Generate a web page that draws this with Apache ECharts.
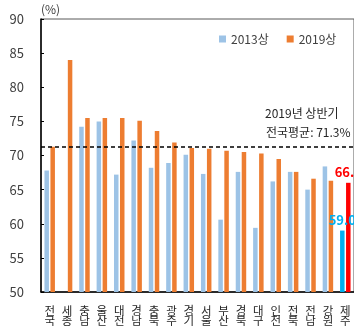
<!DOCTYPE html>
<html>
<head>
<meta charset="utf-8">
<script src="https://cdn.jsdelivr.net/npm/echarts@6/dist/echarts.min.js"></script>
<style>
  html, body { margin: 0; padding: 0; background: #fff; }
  #chart { width: 354px; height: 328px; }
</style>
</head>
<body>
<div id="chart"></div>
<script>
// Regional rates, first half of 2013 vs first half of 2019 (%)
const regions = ['전국', '세종', '충남', '울산', '대전', '경남', '충북', '광주', '경기', '서울', '부산', '경북', '대구', '인천', '전북', '전남', '강원', '제주'];
const rate2013 = [67.8, null, 74.2, 75.0, 67.2, 72.2, 68.2, 68.9, 70.1, 67.3, 60.6, 67.6, 59.4, 66.2, 67.6, 65.0, 68.4, 59.0];
const rate2019 = [71.3, 84.0, 75.5, 75.5, 75.5, 75.1, 73.6, 71.9, 71.1, 71.0, 70.7, 70.5, 70.3, 69.5, 67.6, 66.6, 66.3, 66.0];
const seriesNames = ['2013상', '2019상'];
const yTicks = { min: 50, max: 90, step: 5 };
const nationalAvg2019 = 71.3;
const highlightRegion = '제주';

const FONT = '"Noto Sans CJK KR", "Noto Sans", sans-serif';
const BLUE = '#9DC3E6', ORANGE = '#ED7D31';
const HL_BLUE = '#00B0F0', HL_RED = '#FF0000';
const hlIndex = regions.indexOf(highlightRegion);

function withHighlight(values, color) {
  return values.map((v, i) => {
    if (i !== hlIndex) return v;
    return {
      value: v,
      itemStyle: { color: color },
      label: {
        show: true, position: 'top', distance: 4,
        color: color, fontWeight: 'bold', fontSize: 13, fontFamily: FONT,
        formatter: p => Number(p.value).toFixed(1)
      }
    };
  });
}

const chart = echarts.init(document.getElementById('chart'), null, { renderer: 'canvas' });
chart.setOption({
  animation: false,
  backgroundColor: '#fff',
  textStyle: { fontFamily: FONT },
  grid: {
    left: 41, top: 19, width: 315, height: 273,
    show: true, borderColor: '#595959', borderWidth: 1, backgroundColor: 'transparent'
  },
  legend: {
    data: seriesNames,
    left: 214, top: 28,
    icon: 'rect', itemWidth: 7, itemHeight: 7, itemGap: 18,
    textStyle: { fontSize: 12, color: '#404040', fontFamily: FONT }
  },
  xAxis: {
    type: 'category',
    data: regions,
    axisLine: { lineStyle: { color: '#000', width: 1.5 } },
    axisTick: { show: false },
    axisLabel: {
      interval: 0, margin: 13, fontSize: 11.5, lineHeight: 10.5, color: '#262626',
      fontFamily: FONT,
      formatter: s => s.split('').join('\n')
    }
  },
  yAxis: {
    type: 'value',
    min: yTicks.min, max: yTicks.max, interval: yTicks.step,
    name: '(%)', nameLocation: 'end', nameGap: 4,
    nameTextStyle: { align: 'left', fontSize: 12, color: '#404040', fontFamily: FONT },
    splitLine: { show: false },
    axisLine: { show: true, lineStyle: { color: '#000', width: 1.5 } },
    axisTick: { show: true, inside: true, length: 3, lineStyle: { color: '#000' } },
    axisLabel: { fontSize: 13, color: '#404040', margin: 17, fontFamily: FONT }
  },
  series: [
    {
      name: seriesNames[0], type: 'bar',
      data: withHighlight(rate2013, HL_BLUE),
      barWidth: 4.5, barGap: '33%',
      itemStyle: { color: BLUE }
    },
    {
      name: seriesNames[1], type: 'bar',
      data: withHighlight(rate2019, HL_RED),
      barWidth: 4.5, barGap: '33%',
      itemStyle: { color: ORANGE },
      markLine: {
        silent: true, symbol: 'none',
        label: { show: false },
        lineStyle: { color: '#000', type: [4, 3], width: 1.5 },
        data: [{ yAxis: nationalAvg2019 }]
      }
    }
  ],
  graphic: [
    {
      type: 'text', left: 265, top: 107,
      style: { text: '2019년 상반기', fontSize: 12, fill: '#262626', fontFamily: FONT }
    },
    {
      type: 'text', left: 266, top: 126,
      style: { text: '전국평균: ' + nationalAvg2019.toFixed(1) + '%', fontSize: 12, fill: '#262626', fontFamily: FONT }
    }
  ]
});
</script>
</body>
</html>
